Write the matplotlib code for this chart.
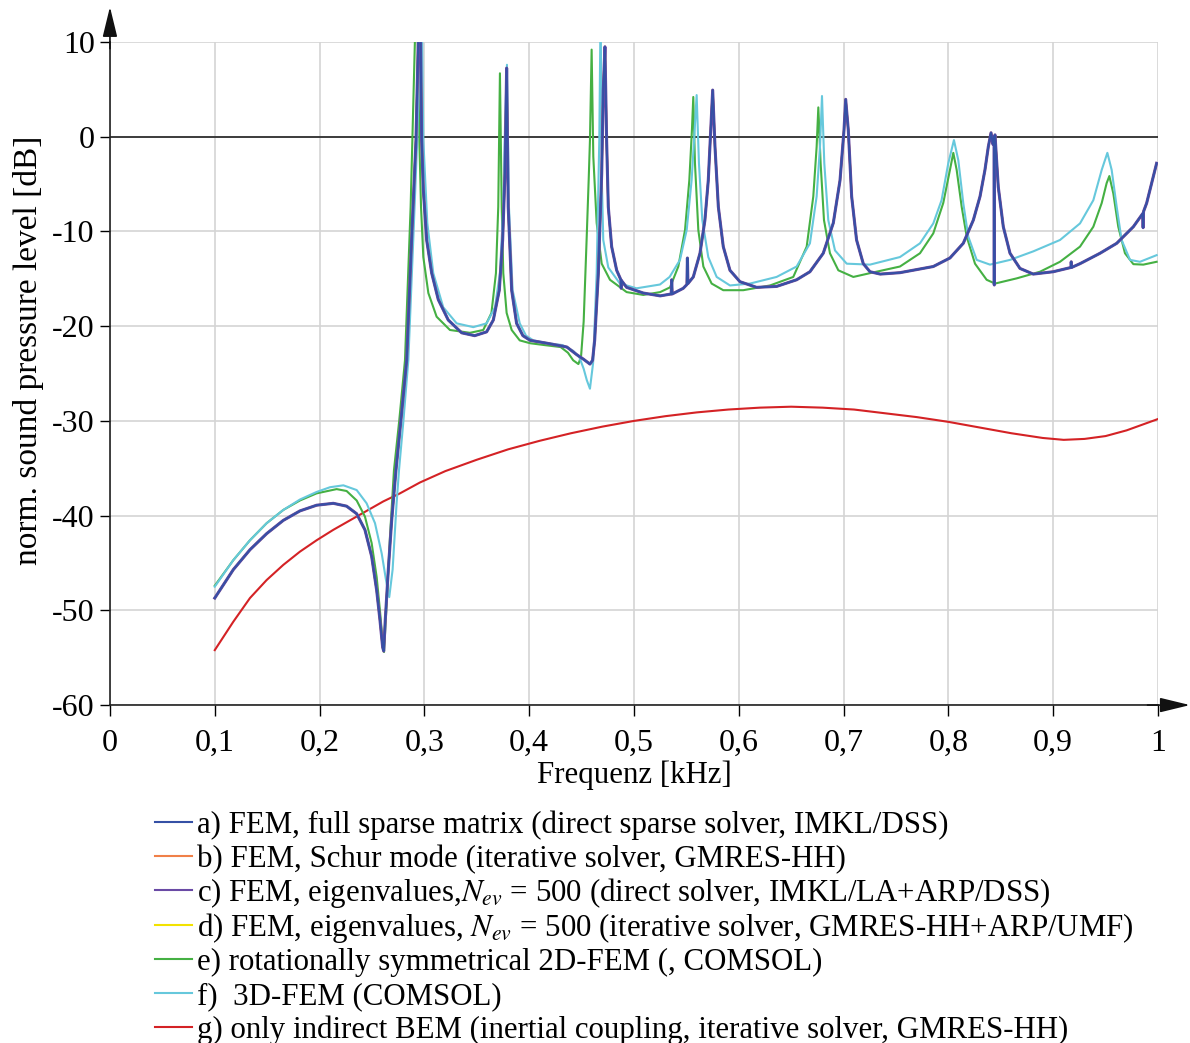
import numpy as np
import matplotlib.pyplot as plt
from matplotlib.lines import Line2D

plt.rcParams['font.family'] = ['Liberation Serif', 'DejaVu Serif']
plt.rcParams['mathtext.fontset'] = 'stix'
plt.rcParams['axes.unicode_minus'] = False

# FEM results a) - d) (the four curves lie on top of each other)
fem_f = [0.1000, 0.1177, 0.1336, 0.1495, 0.1654, 0.1813, 0.1972, 0.2131, 0.2258, 0.2354, 0.2433,
         0.2497, 0.2545, 0.2576, 0.2602, 0.2612, 0.2627, 0.2656, 0.2688, 0.2729, 0.2780, 0.2831,
         0.2878, 0.2920, 0.2942, 0.2958, 0.2974, 0.2990, 0.3022, 0.3070, 0.3133, 0.3228, 0.3356,
         0.3480, 0.3594, 0.3658, 0.3715, 0.3747, 0.3769, 0.3785, 0.3800, 0.3833, 0.3880, 0.3940,
         0.4010, 0.4170, 0.4360, 0.4453, 0.4520, 0.4580, 0.4605, 0.4625, 0.4660, 0.4692, 0.4707,
         0.4723, 0.4739, 0.4755, 0.4787, 0.4835, 0.4875, 0.4878, 0.4882, 0.4930, 0.5089, 0.5250,
         0.5355, 0.5360, 0.5365, 0.5470, 0.5505, 0.5510, 0.5515, 0.5566, 0.5630, 0.5677, 0.5709,
         0.5732, 0.5751, 0.5773, 0.5805, 0.5852, 0.5916, 0.6011, 0.6170, 0.6361, 0.6552, 0.6679,
         0.6806, 0.6902, 0.6966, 0.7004, 0.7020, 0.7045, 0.7077, 0.7124, 0.7188, 0.7252, 0.7350,
         0.7538, 0.7856, 0.8015, 0.8142, 0.8238, 0.8302, 0.8349, 0.8381, 0.8407, 0.8425, 0.8436,
         0.8438, 0.8440, 0.8445, 0.8476, 0.8524, 0.8588, 0.8683, 0.8810, 0.9001, 0.9170, 0.9172,
         0.9175, 0.9256, 0.9447, 0.9606, 0.9765, 0.9855, 0.9858, 0.9862, 0.9892, 0.9987]
fem_db = [-48.7, -45.7, -43.6, -41.9, -40.5, -39.5, -38.9, -38.7, -39.0, -39.8, -41.5,
          -44.3, -47.9, -51.0, -53.9, -54.3, -51.0, -45.7, -40.5, -35.2, -29.5, -23.6,
          -10.9, -0.35, 10.2, 16.0, -0.35, -5.6, -10.9, -14.4, -17.2, -19.35, -20.7,
          -21.0, -20.6, -19.35, -16.2, -10.9, -3.9, 7.25, -7.4, -16.2, -19.7, -21.0,
          -21.5, -21.8, -22.2, -23.0, -23.5, -24.0, -23.6, -21.5, -14.4, -3.9, 4.9,
          9.5, -0.35, -7.4, -11.6, -14.1, -15.1, -16.0, -15.2, -15.9, -16.5, -16.8,
          -16.6, -15.1, -16.6, -16.0, -15.6, -12.8, -15.5, -14.8, -12.3, -8.8, -4.6,
          0.7, 4.93, -1.05, -7.4, -11.6, -14.1, -15.3, -15.9, -15.8, -15.1, -14.25,
          -12.3, -9.1, -4.6, 0.7, 3.95, 0.7, -6.3, -10.9, -13.4, -14.25, -14.5,
          -14.35, -13.7, -12.8, -11.25, -8.8, -6.3, -3.5, -1.05, 0.42, -0.8, 0.0,
          -15.65, 0.0, 0.2, -5.3, -9.5, -12.3, -13.9, -14.5, -14.25, -13.8, -13.2,
          -13.8, -13.4, -12.3, -11.25, -9.5, -8.1, -9.6, -7.9, -7.0, -2.8]

# e) rotationally symmetrical 2D-FEM
sym_f = [0.1000, 0.1177, 0.1336, 0.1495, 0.1654, 0.1813, 0.1972, 0.2163, 0.2258, 0.2354, 0.2433,
         0.2497, 0.2545, 0.2576, 0.2600, 0.2615, 0.2640, 0.2672, 0.2710, 0.2760, 0.2815, 0.2869,
         0.2910, 0.2930, 0.2952, 0.2968, 0.2990, 0.3038, 0.3117, 0.3244, 0.3435, 0.3562, 0.3640,
         0.3683, 0.3705, 0.3721, 0.3738, 0.3753, 0.3785, 0.3833, 0.3910, 0.4010, 0.4150, 0.4300,
         0.4370, 0.4420, 0.4470, 0.4495, 0.4520, 0.4548, 0.4568, 0.4580, 0.4596, 0.4612, 0.4644,
         0.4692, 0.4771, 0.4930, 0.5089, 0.5250, 0.5344, 0.5423, 0.5487, 0.5528, 0.5553, 0.5566,
         0.5582, 0.5614, 0.5662, 0.5741, 0.5852, 0.6043, 0.6298, 0.6520, 0.6648, 0.6711, 0.6743,
         0.6759, 0.6781, 0.6813, 0.6870, 0.6950, 0.7093, 0.7252, 0.7538, 0.7729, 0.7856, 0.7951,
         0.8015, 0.8047, 0.8079, 0.8127, 0.8175, 0.8254, 0.8365, 0.8445, 0.8652, 0.8874, 0.9065,
         0.9256, 0.9383, 0.9463, 0.9510, 0.9536, 0.9574, 0.9621, 0.9685, 0.9765, 0.9860, 0.9987]
sym_db = [-47.4, -44.7, -42.6, -40.8, -39.4, -38.4, -37.65, -37.2, -37.4, -38.4, -40.1,
          -42.9, -46.5, -50.0, -53.0, -54.4, -49.3, -42.2, -35.2, -30.0, -23.6, -7.4,
          10.2, 16.0, -0.35, -7.4, -12.7, -16.5, -19.0, -20.4, -20.7, -20.4, -18.6,
          -14.4, -7.4, 6.7, -7.4, -14.4, -18.6, -20.4, -21.5, -21.8, -22.0, -22.2,
          -22.8, -23.6, -24.0, -23.2, -19.5, -10.9, -4.5, -0.35, 9.2, -2.1, -9.1,
          -13.4, -15.1, -16.4, -16.7, -16.4, -15.9, -13.7, -9.85, -4.6, 0.7, 4.2,
          -2.8, -9.85, -13.7, -15.5, -16.2, -16.2, -15.7, -14.8, -11.6, -6.3, -1.05,
          3.1, -2.8, -8.8, -12.3, -14.1, -14.8, -14.4, -13.7, -12.3, -10.2, -7.0,
          -3.5, -1.7, -3.5, -7.4, -10.55, -13.4, -15.1, -15.5, -14.95, -14.25, -13.2,
          -11.6, -9.5, -7.0, -4.9, -4.15, -6.0, -9.5, -12.3, -13.45, -13.5, -13.2]

# f) 3D-FEM (COMSOL)
fem3d_f = [0.1000, 0.1177, 0.1336, 0.1495, 0.1654, 0.1813, 0.1972, 0.2100, 0.2227, 0.2354, 0.2449,
           0.2529, 0.2593, 0.2634, 0.2665, 0.2697, 0.2735, 0.2758, 0.2800, 0.2847, 0.2894, 0.2932,
           0.2958, 0.2972, 0.2990, 0.3028, 0.3085, 0.3180, 0.3308, 0.3467, 0.3594, 0.3674, 0.3721,
           0.3753, 0.3770, 0.3788, 0.3807, 0.3842, 0.3910, 0.3970, 0.4040, 0.4180, 0.4320, 0.4420,
           0.4480, 0.4520, 0.4550, 0.4580, 0.4610, 0.4644, 0.4669, 0.4682, 0.4692, 0.4707, 0.4755,
           0.4866, 0.5025, 0.5248, 0.5340, 0.5439, 0.5503, 0.5550, 0.5579, 0.5598, 0.5620, 0.5652,
           0.5709, 0.5789, 0.5916, 0.6107, 0.6361, 0.6552, 0.6679, 0.6743, 0.6775, 0.6794, 0.6816,
           0.6854, 0.6918, 0.7030, 0.7252, 0.7538, 0.7729, 0.7856, 0.7935, 0.7999, 0.8053, 0.8095,
           0.8142, 0.8190, 0.8270, 0.8397, 0.8588, 0.8810, 0.9065, 0.9256, 0.9383, 0.9463, 0.9517,
           0.9558, 0.9606, 0.9653, 0.9733, 0.9828, 0.9987]
fem3d_db = [-47.5, -44.7, -42.6, -40.8, -39.4, -38.3, -37.5, -37.0, -36.8, -37.3, -38.7,
            -40.8, -44.0, -46.8, -48.6, -45.7, -38.7, -35.2, -30.0, -23.6, -10.9, -0.35,
            10.2, 16.0, -0.35, -9.1, -14.4, -18.0, -19.7, -20.1, -19.7, -18.0, -14.4,
            -7.4, 1.4, 7.6, -7.4, -16.2, -19.7, -21.0, -21.5, -21.8, -22.0, -22.6,
            -23.3, -24.5, -25.7, -26.6, -23.9, -14.4, -0.35, 14.0, -3.9, -10.9, -13.8,
            -15.5, -16.0, -15.6, -14.8, -13.0, -9.85, -4.6, 0.7, 4.4, -2.8, -8.8,
            -12.7, -14.8, -15.7, -15.5, -14.8, -13.7, -11.25, -6.3, -1.05, 4.3, -2.8,
            -8.8, -12.0, -13.4, -13.5, -12.7, -11.25, -9.15, -6.7, -2.8, -0.35, -2.5,
            -7.0, -10.55, -13.0, -13.5, -13.0, -12.1, -10.9, -9.15, -6.7, -3.5, -1.7,
            -3.5, -7.4, -10.9, -13.0, -13.2, -12.5]

# g) only indirect BEM
bem_f = [0.1000, 0.1177, 0.1336, 0.1495, 0.1654, 0.1813, 0.1972, 0.2131, 0.2290, 0.2449, 0.2608,
         0.2767, 0.2958, 0.320, 0.350, 0.380, 0.410, 0.440, 0.470, 0.500, 0.530, 0.560, 0.590,
         0.620, 0.650, 0.680, 0.710, 0.740, 0.770, 0.800, 0.830, 0.860, 0.890, 0.910, 0.930,
         0.950, 0.970, 0.985, 1.000]
bem_db = [-54.2, -51.2, -48.7, -46.8, -45.2, -43.8, -42.6, -41.5, -40.5, -39.5, -38.5,
          -37.65, -36.5, -35.3, -34.1, -33.0, -32.1, -31.3, -30.6, -30.0, -29.5, -29.1, -28.8,
          -28.6, -28.5, -28.6, -28.8, -29.2, -29.6, -30.1, -30.7, -31.3, -31.8, -32.0, -31.9,
          -31.6, -31.0, -30.4, -29.8]

labels = ['a) FEM, full sparse matrix (direct sparse solver, IMKL/DSS)',
          'b) FEM, Schur mode (iterative solver, GMRES-HH)',
          'c) FEM, eigenvalues,$N_{ev}$ = 500 (direct solver, IMKL/LA+ARP/DSS)',
          'd) FEM, eigenvalues, $N_{ev}$ = 500 (iterative solver, GMRES-HH+ARP/UMF)',
          'e) rotationally symmetrical 2D-FEM (, COMSOL)',
          'f)  3D-FEM (COMSOL)',
          'g) only indirect BEM (inertial coupling, iterative solver, GMRES-HH)']
colors = ['#3550a5', '#f08048', '#6a4aa5', '#f2e200', '#45b043', '#66c8dc', '#d42225']

xticks = [0, 0.1, 0.2, 0.3, 0.4, 0.5, 0.6, 0.7, 0.8, 0.9, 1.0]
xticklabels = ['0', '0,1', '0,2', '0,3', '0,4', '0,5', '0,6', '0,7', '0,8', '0,9', '1']
yticks = [-60, -50, -40, -30, -20, -10, 0, 10]

fig = plt.figure(figsize=(11.9, 10.43), dpi=100)
ax = fig.add_axes([0.0924, 0.324, 0.8807, 0.6357])

ax.grid(True, color='#d4d4d4', lw=1.2)
ax.set_axisbelow(True)
ax.axhline(0, color='#222222', lw=1.2, zorder=1.5)

ax.plot(bem_f, bem_db, color=colors[6], lw=1.5)
ax.plot(sym_f, sym_db, color=colors[4], lw=1.5)
ax.plot(fem3d_f, fem3d_db, color=colors[5], lw=1.5)
ax.plot(fem_f, fem_db, color=colors[3], lw=1.5)
ax.plot(fem_f, fem_db, color=colors[1], lw=1.5)
ax.plot(fem_f, fem_db, color=colors[2], lw=2.2)
ax.plot(fem_f, fem_db, color=colors[0], lw=1.4)

ax.set_xlim(0, 1)
ax.set_ylim(-60, 10)
ax.set_xticks(xticks)
ax.set_xticklabels(xticklabels)
ax.set_yticks(yticks)
ax.tick_params(axis='x', direction='out', length=8, width=1, pad=9, labelsize=23)
ax.tick_params(axis='y', direction='out', length=7, width=1, pad=4, labelsize=23)
for s in ['top', 'right']:
    ax.spines[s].set_visible(False)
for s in ['left', 'bottom']:
    ax.spines[s].set_linewidth(1.2)
    ax.spines[s].set_color('#222222')

# axis arrows
ax.annotate('', xy=(0, 1.053), xytext=(0, 0.99), xycoords='axes fraction',
            arrowprops=dict(arrowstyle='-|>,head_length=1.85,head_width=0.45', color='#111111',
                            lw=1.2, shrinkA=0, shrinkB=0, mutation_scale=10), annotation_clip=False)
ax.annotate('', xy=(1.0305, 0), xytext=(0.99, 0), xycoords='axes fraction',
            arrowprops=dict(arrowstyle='-|>,head_length=1.85,head_width=0.45', color='#111111',
                            lw=1.2, shrinkA=0, shrinkB=0, mutation_scale=10), annotation_clip=False)

ax.set_xlabel('Frequenz [kHz]', fontsize=22.2)
ax.set_ylabel('norm. sound pressure level [dB]', fontsize=24)
ax.xaxis.set_label_coords(0.5, -0.084)
ax.yaxis.set_label_coords(-0.063, 0.535)

# legend below the chart
H = 1043.0
W = 1190.0
for i, (lab, col) in enumerate(zip(labels, colors)):
    yc = 822 + i * 34.2
    fig.add_artist(Line2D([155 / W, 192 / W], [1 - yc / H, 1 - yc / H], color=col, lw=1.5))
    fig.text(197 / W, 1 - (yc + 11) / H, lab, fontsize=22.2, va='baseline', ha='left')

fig.savefig('out.png', dpi=100)
